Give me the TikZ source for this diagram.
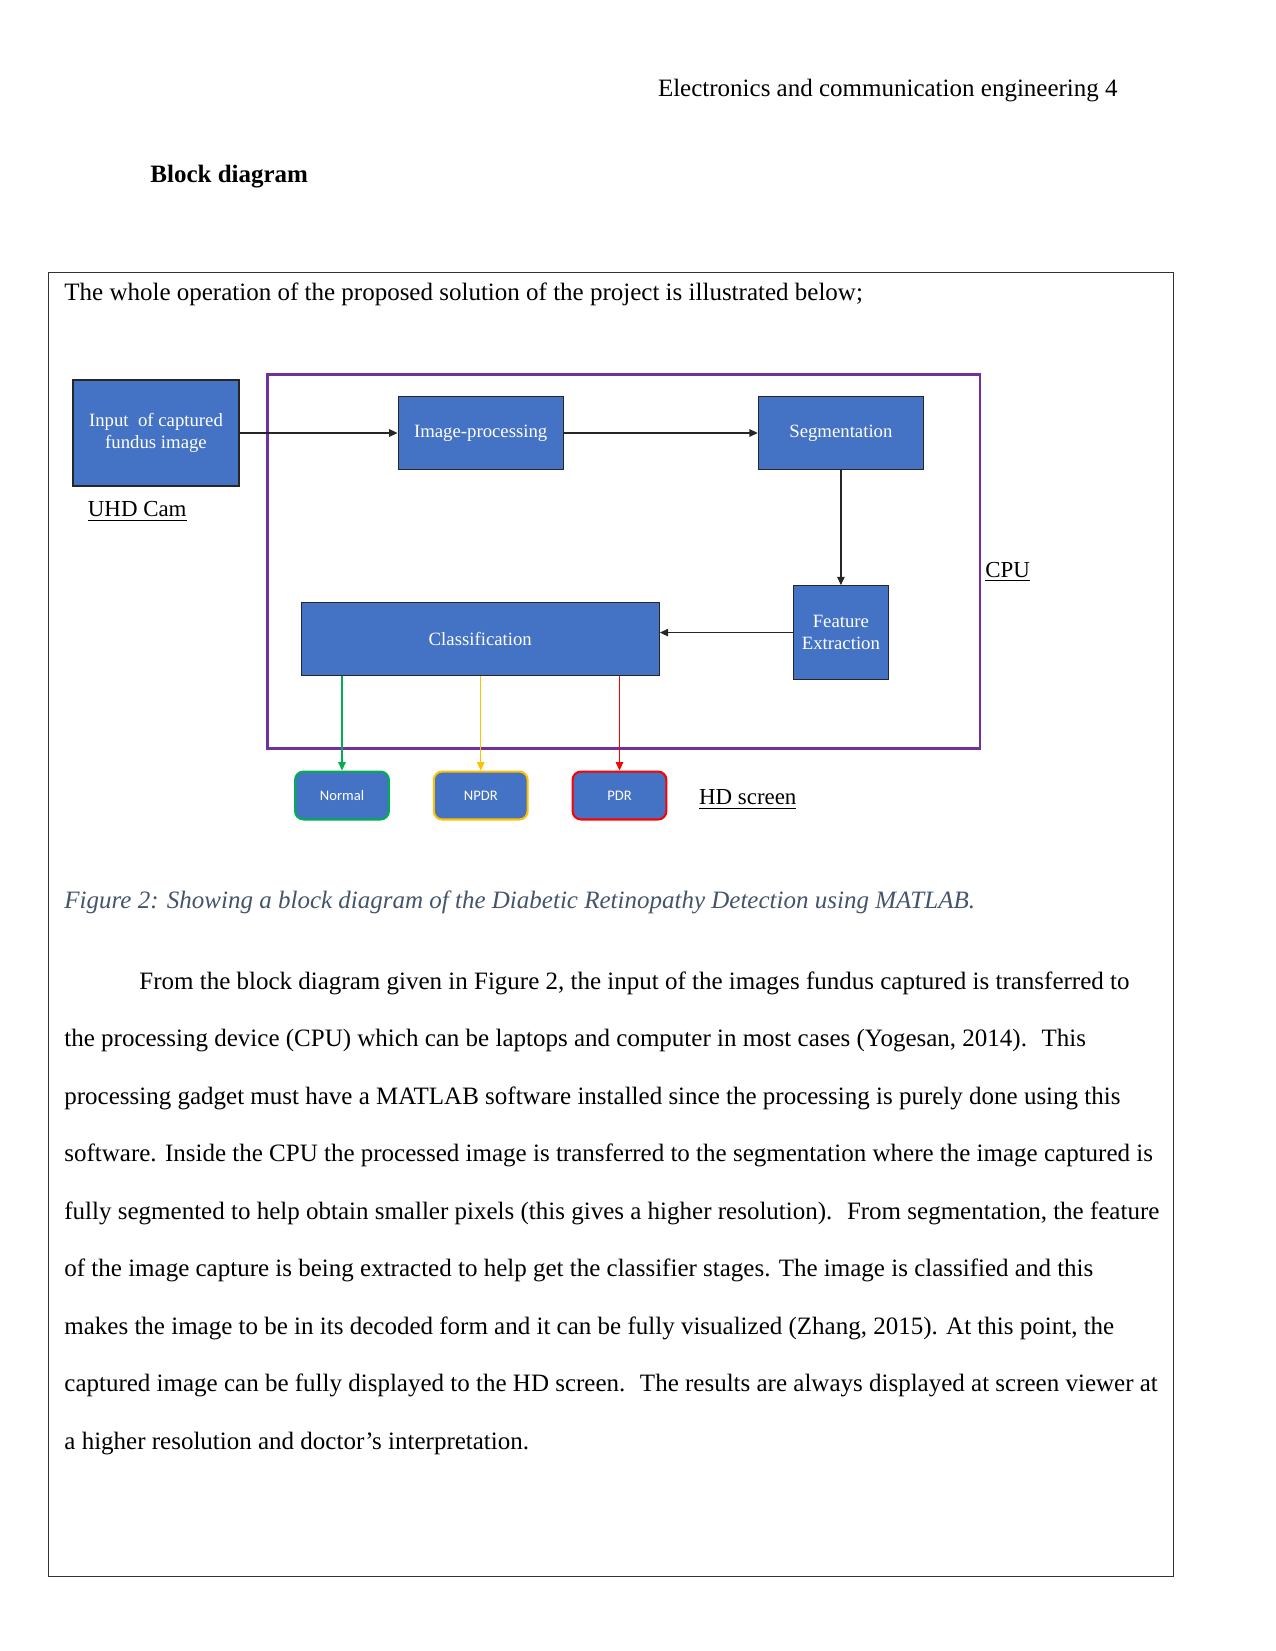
\documentclass[tikz,border=0pt]{standalone}
\usepackage{fontspec}
\setmainfont{Liberation Serif}
\newfontfamily\calfont{Carlito}
\usetikzlibrary{positioning,arrows.meta}

\definecolor{boxblue}{HTML}{4472C4}
\definecolor{cpupurple}{HTML}{7030A0}
\definecolor{capgrey}{HTML}{44546A}
\definecolor{okgreen}{HTML}{00B050}
\definecolor{npyellow}{HTML}{FFC000}
\definecolor{pdred}{HTML}{FF0000}

\begin{document}
\begin{tikzpicture}[
    x=0.48pt, y=-0.48pt,
    node distance=20.6pt,
    block/.style={draw=black!85, line width=0.6pt, fill=boxblue, text=white,
                  align=center, inner sep=1pt, font=\fontsize{9}{10.5}\selectfont},
    result/.style={draw=#1, line width=1pt, rounded corners=4pt, fill=boxblue,
                   text=white, minimum width=45pt, minimum height=23pt,
                   font=\calfont\fontsize{7}{8}\selectfont},
    tag/.style={font=\fontsize{11}{12}\selectfont, inner sep=0pt},
    body/.style={font=\fontsize{12}{14}\selectfont, inner sep=0pt, anchor=base west},
    arrow/.style={-{Triangle[length=4pt,width=3.6pt]}, line width=0.6pt, black!85},
    carrow/.style={-{Triangle[length=4pt,width=3.6pt]}, line width=0.5pt, draw=#1},
  ]
    \useasboundingbox (0,0) rectangle (1275,1651);

    % Page text above the frame
    \node[body, anchor=base east] (header) at (1118,97)
      {Electronics and communication engineering 4};
    \node[body, font=\fontsize{12}{14}\bfseries] (title) at (150,183)
      {Block diagram};

    % Outer frame of the text box
    \node[draw=black!80, line width=0.6pt, minimum width=540pt, minimum height=626pt,
          inner sep=0pt, anchor=north west] (frame) at (48,272) {};
    \node[body] (intro) at (64,300)
      {The whole operation of the proposed solution of the project is illustrated below;};

    % CPU region
    \node[draw=cpupurple, line width=1.4pt, minimum width=342pt, minimum height=179.5pt,
          inner sep=0pt, anchor=north west] (cpu) at (266,373) {};
    \node[tag, anchor=west] (cpulbl) at (985,572) {\underline{CPU}};

    % Processing chain
    \node[block, minimum width=79.7pt, minimum height=50.9pt] (input) at (156,433)
      {Input \ of captured\\fundus image};
    \node[tag, below=7pt of input, xshift=-9pt] (uhd) {\underline{UHD Cam}};
    \node[block, minimum width=79.2pt, minimum height=35pt, right=75.8pt of input] (imgproc)
      {Image-processing};
    \node[block, minimum width=79.2pt, minimum height=35pt, right=93.1pt of imgproc] (seg)
      {Segmentation};
    \node[block, minimum width=45.6pt, minimum height=45pt, below=55.2pt of seg] (feat)
      {Feature\\Extraction};
    \node[block, minimum width=171.8pt, minimum height=35pt, left=63.8pt of feat,
          yshift=-3.1pt] (classif) {Classification};

    \draw[arrow] (input.east) -- (imgproc.west);
    \draw[arrow] (imgproc.east) -- (seg.west);
    \draw[arrow] (seg.south) -- (feat.north);
    \draw[arrow] (feat.west) -- (feat.west -| classif.east);

    % Outputs on the screen
    \node[result=okgreen] (normal) at (342,795.5) {Normal};
    \node[result=npyellow, right=of normal] (npdr) {NPDR};
    \node[result=pdred, right=of npdr] (pdr) {PDR};
    \node[tag, right=15pt of pdr, yshift=-2pt] (hd) {\underline{HD screen}};

    \draw[carrow=okgreen] (classif.south -| normal.north) -- (normal.north);
    \draw[carrow=npyellow] (classif.south -| npdr.north) -- (npdr.north);
    \draw[carrow=pdred] (classif.south -| pdr.north) -- (pdr.north);

    % Caption and paragraph, one node per printed line
    \node[body, text=capgrey, font=\fontsize{12}{14}\itshape] (caption) at (64,908)
      {Figure 2: Showing a block diagram of the Diabetic Retinopathy Detection using MATLAB.};
    \foreach \txt [count=\i] in {
        {\hspace*{36pt}From the block diagram given in Figure 2, the input of the images fundus captured is transferred to},
        {the processing device (CPU) which can be laptops and computer in most cases (Yogesan, 2014). \ This},
        {processing gadget must have a MATLAB software installed since the processing is purely done using this},
        {software. Inside the CPU the processed image is transferred to the segmentation where the image captured is},
        {fully segmented to help obtain smaller pixels (this gives a higher resolution). \ From segmentation, the feature},
        {of the image capture is being extracted to help get the classifier stages. The image is classified and this},
        {makes the image to be in its decoded form and it can be fully visualized (Zhang, 2015). At this point, the},
        {captured image can be fully displayed to the HD screen. \ The results are always displayed at screen viewer at},
        {a higher resolution and doctor’s interpretation.}}
      \node[body] (line\i) at (64,{989+(\i-1)*57.5}) {\txt};
  \end{tikzpicture}
\end{document}
